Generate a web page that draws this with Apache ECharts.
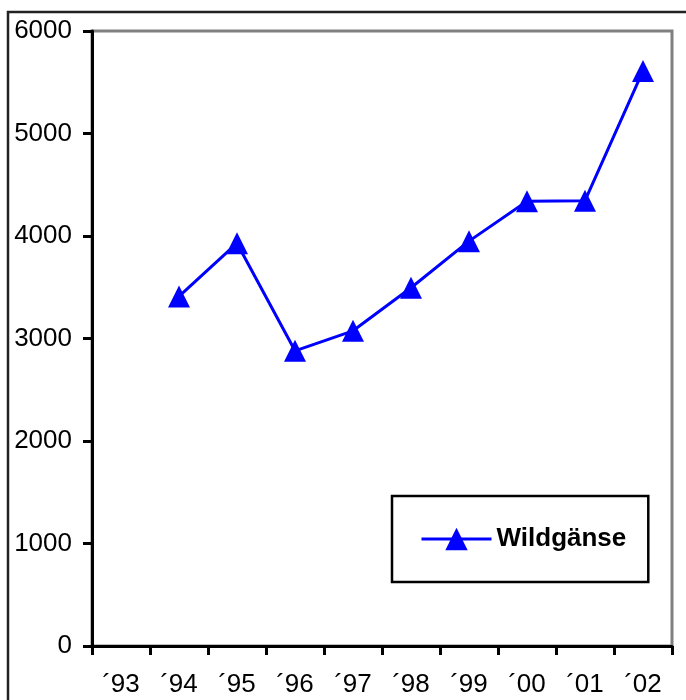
<!DOCTYPE html>
<html>
<head>
<meta charset="utf-8">
<script src="https://cdn.jsdelivr.net/npm/echarts@6/dist/echarts.min.js"></script>
<style>
html,body{margin:0;padding:0;background:#fff;}
#chart{width:686px;height:700px;}
</style>
</head>
<body>
<div id="chart"></div>
<script>
var categories = ['´93','´94','´95','´96','´97','´98','´99','´00','´01','´02'];
var wildgaense = [null, 3410, 3930, 2880, 3075, 3495, 3950, 4340, 4345, 5610];
var seriesName = 'Wildgänse';
var yTicks = [0, 1000, 2000, 3000, 4000, 5000, 6000];

var chart = echarts.init(document.getElementById('chart'), null, {renderer: 'canvas'});
var font = "'Liberation Sans', Arial, sans-serif";
chart.setOption({
  animation: false,
  backgroundColor: '#fff',
  graphic: [{
    type: 'rect',
    shape: {x: 8, y: 12, width: 720, height: 720},
    style: {fill: 'none', stroke: '#222', lineWidth: 2.5},
    z: 0
  }],
  grid: {
    left: 92, top: 31, right: 14, bottom: 54,
    show: true, borderColor: '#808080', borderWidth: 3, backgroundColor: 'transparent'
  },
  legend: {
    data: [seriesName],
    left: 392, top: 496,
    padding: [30, 22, 30, 28],
    borderColor: '#000', borderWidth: 2.5, borderRadius: 0,
    itemWidth: 70, itemHeight: 28, itemGap: 0,
    lineStyle: {width: 3},
    textStyle: {fontFamily: font, fontWeight: 'bold', fontSize: 26, color: '#000', padding: [0,0,0,0]},
    backgroundColor: '#fff'
  },
  xAxis: {
    type: 'category',
    data: categories,
    boundaryGap: true,
    axisLine: {lineStyle: {color: '#000', width: 3}},
    axisTick: {show: true, inside: false, length: 9, lineStyle: {color: '#000', width: 3}},
    axisLabel: {fontFamily: font, fontSize: 26, color: '#000', margin: 26},
    splitLine: {show: false}
  },
  yAxis: {
    type: 'value',
    min: yTicks[0], max: yTicks[yTicks.length - 1], interval: 1000,
    axisLine: {show: true, lineStyle: {color: '#000', width: 3}},
    axisTick: {show: true, inside: false, length: 9, lineStyle: {color: '#000', width: 3}},
    axisLabel: {fontFamily: font, fontSize: 26, color: '#000', margin: 20,
      formatter: function (v) { return String(v); }},
    splitLine: {show: false}
  },
  series: [{
    name: seriesName,
    type: 'line',
    data: wildgaense,
    connectNulls: false,
    symbol: 'triangle',
    symbolSize: 22,
    showAllSymbol: true,
    itemStyle: {color: '#0000ff'},
    lineStyle: {color: '#0000ff', width: 3},
    z: 5
  }]
});
</script>
</body>
</html>
